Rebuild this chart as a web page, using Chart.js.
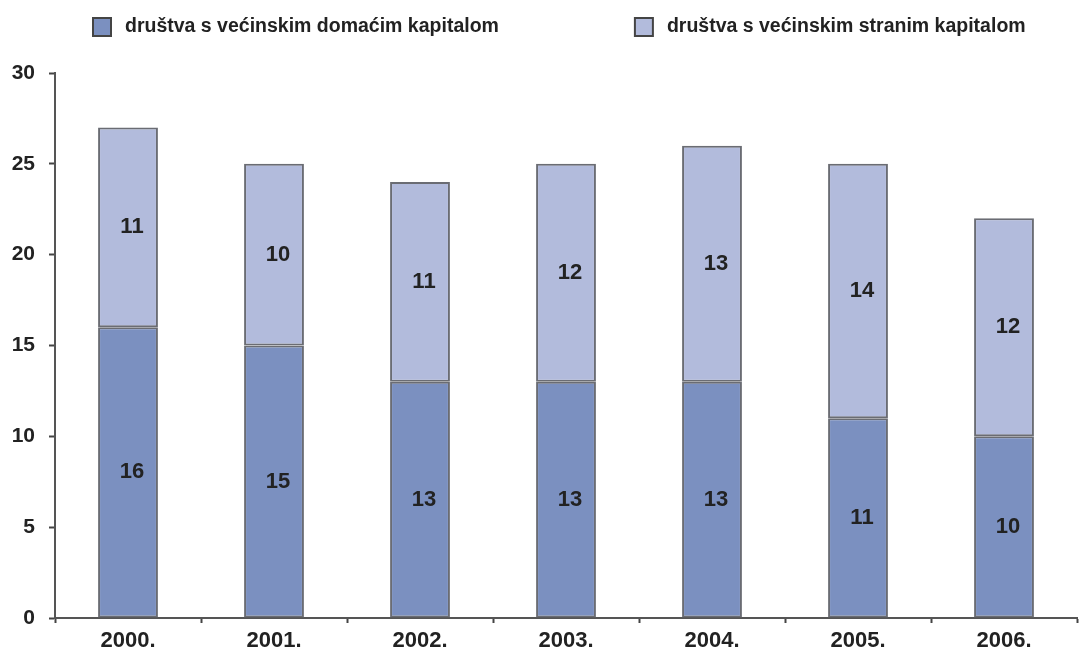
<!DOCTYPE html>
<html>
<head>
<meta charset="utf-8">
<script src="https://cdn.jsdelivr.net/npm/chart.js@4/dist/chart.umd.min.js"></script>
<style>
    html, body { margin: 0; padding: 0; background: #fff; }
    #wrap { width: 1088px; height: 657px; }
</style>
</head>
<body>
<div id="wrap"><canvas id="barChart"></canvas></div>
<script>
const years = ["2000.", "2001.", "2002.", "2003.", "2004.", "2005.", "2006."];
const domaci = [16, 15, 13, 13, 13, 11, 10];
const strani = [11, 10, 11, 12, 13, 14, 12];
const yTicks = [0, 5, 10, 15, 20, 25, 30];

const FONT = "'Liberation Sans', Arial, Helvetica, sans-serif";

// brojevi u sredini stupaca
const segmentLabels = {
    id: "segmentLabels",
    afterDatasetsDraw(chart) {
        const ctx = chart.ctx;
        ctx.save();
        ctx.font = "bold 22px " + FONT;
        ctx.fillStyle = "#222";
        ctx.textAlign = "center";
        ctx.textBaseline = "middle";
        chart.data.datasets.forEach((ds, i) => {
            chart.getDatasetMeta(i).data.forEach((bar, j) => {
                const p = bar.getProps(["x", "y", "base"], true);
                ctx.fillText(ds.data[j], p.x + 4, (p.y + p.base) / 2);
            });
        });
        ctx.restore();
    }
};

// legenda iznad grafa
const topLegend = {
    id: "topLegend",
    afterDraw(chart) {
        const ctx = chart.ctx;
        ctx.save();
        ctx.font = "bold 19.5px " + FONT;
        ctx.textBaseline = "middle";
        let x = 93;
        const y = 27;
        chart.data.datasets.forEach(ds => {
            ctx.fillStyle = ds.backgroundColor;
            ctx.fillRect(x, y - 9, 18, 18);
            ctx.lineWidth = 2;
            ctx.strokeStyle = "#444";
            ctx.strokeRect(x, y - 9, 18, 18);
            ctx.fillStyle = "#222";
            ctx.fillText(ds.label, x + 32, y);
            x += 32 + ctx.measureText(ds.label).width + 136;
        });
        ctx.restore();
    }
};

new Chart(document.getElementById("barChart"), {
    type: "bar",
    data: {
        labels: years,
        datasets: [
            {
                label: "društva s većinskim domaćim kapitalom",
                data: domaci,
                backgroundColor: "#7b90c0",
                borderColor: "#6a6c73",
                borderWidth: 2,
                borderSkipped: false
            },
            {
                label: "društva s većinskim stranim kapitalom",
                data: strani,
                backgroundColor: "#b2bbdc",
                borderColor: "#6a6c73",
                borderWidth: 2,
                borderSkipped: false
            }
        ]
    },
    options: {
        responsive: true,
        maintainAspectRatio: false,
        animation: false,
        layout: {
            padding: { top: 73, right: 11, bottom: 0, left: 0 }
        },
        datasets: {
            bar: { categoryPercentage: 1, barPercentage: 0.41 }
        },
        plugins: {
            legend: { display: false },
            tooltip: { enabled: false }
        },
        scales: {
            x: {
                stacked: true,
                afterFit(scale) { scale.height = 39; },
                grid: {
                    drawOnChartArea: false,
                    offset: true,
                    tickLength: 5,
                    tickWidth: 2,
                    color: "#444"
                },
                border: { display: true, color: "#555", width: 2 },
                ticks: {
                    color: "#222",
                    padding: 5,
                    font: { family: FONT, size: 22, weight: "bold" }
                }
            },
            y: {
                stacked: true,
                min: 0,
                max: 30,
                afterFit(scale) { scale.width = 55; },
                afterBuildTicks(scale) {
                    scale.ticks = yTicks.map(v => ({ value: v }));
                },
                grid: {
                    drawOnChartArea: false,
                    tickLength: 6,
                    tickWidth: 2,
                    color: "#444"
                },
                border: { display: true, color: "#555", width: 2 },
                ticks: {
                    color: "#222",
                    padding: 14,
                    font: { family: FONT, size: 21, weight: "bold" }
                }
            }
        }
    },
    plugins: [segmentLabels, topLegend]
});
</script>
</body>
</html>
